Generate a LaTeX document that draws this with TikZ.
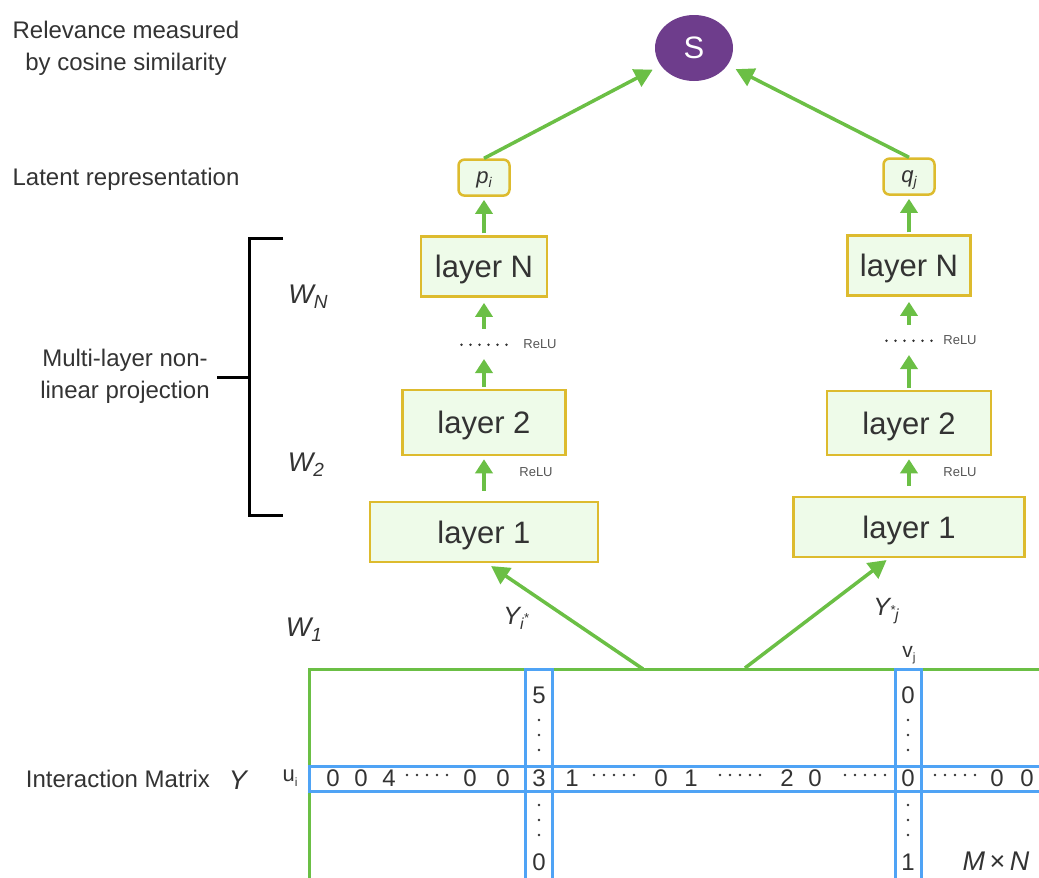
\documentclass[tikz,border=0pt]{standalone}
\usepackage{fontspec}
\setmainfont{Liberation Sans}
\usetikzlibrary{positioning,arrows.meta,shapes.geometric}

\definecolor{arrgreen}{HTML}{6BBF45}
\definecolor{gold}{HTML}{DDBB2E}
\definecolor{lgreen}{HTML}{EEFBE9}
\definecolor{mblue}{HTML}{4FA3F5}
\definecolor{sim}{HTML}{6E3D8C}
\definecolor{txt}{HTML}{333333}
\definecolor{relu}{HTML}{555555}

\newcommand\lowsub[2][15]{\raisebox{-0.2em}{\fontsize{#1}{#1}\selectfont #2}}
\newcommand\upstar[1][13]{\raisebox{0.4em}{\fontsize{#1}{#1}\selectfont *}}

\begin{document}
\begin{tikzpicture}[x=1pt,y=1pt,
    lab/.style={text=txt, font=\fontsize{24}{32}\selectfont, align=center},
    lay/.style={draw=gold, fill=lgreen, line width=2.5pt, inner sep=0pt, text=txt,
      text depth=0pt, font=\fontsize{31}{36}\selectfont},
    vec/.style={draw=gold, fill=lgreen, line width=2.5pt, rounded corners=6pt, inner sep=0pt,
      minimum width=51pt, minimum height=36pt, text=txt, text depth=0pt,
      font=\fontsize{22}{24}\selectfont\itshape},
    gap/.style={minimum width=50pt, minimum height=28pt, inner sep=0pt},
    up/.style={draw=arrgreen, line width=3.5pt, -{Triangle[length=14pt,width=17pt]},
      shorten <=2pt, shorten >=3pt},
    big/.style={draw=arrgreen, line width=3.5pt, -{Triangle[length=18pt,width=19pt]}},
    relu/.style={text=relu, font=\fontsize{13}{14}\selectfont},
    wlab/.style={text=txt, font=\fontsize{27}{30}\selectfont\itshape},
    num/.style={text=txt, font=\fontsize{24}{26}\selectfont, inner sep=0pt},
    mline/.style={draw=arrgreen, line width=3pt},
    bline/.style={draw=mblue, line width=3pt},
  ]
  \useasboundingbox (0,0) rectangle (1039,-878);

  % left tower
  \node[lay, minimum width=228pt, minimum height=60pt] (l1) at (484,-532) {layer 1};
  \node[lay, minimum width=163pt, minimum height=65pt, above=44.5pt of l1] (l2) {layer 2};
  \node[gap, above=29.75pt of l2] (d1) {};
  \node[lay, minimum width=126pt, minimum height=60pt, above=32.75pt of d1] (ln) {layer N};
  \node[vec, above=38.5pt of ln] (p) {p\lowsub[14]{i}};

  % right tower
  \node[lay, minimum width=231pt, minimum height=60pt] (r1) at (909,-527) {layer 1};
  \node[lay, minimum width=164pt, minimum height=64pt, above=39.5pt of r1] (r2) {layer 2};
  \node[gap, above=34.75pt of r2] (d2) {};
  \node[lay, minimum width=123pt, minimum height=60pt, above=29.75pt of d2] (rn) {layer N};
  \node[vec, above=38.5pt of rn] (q) {q\lowsub[14]{j}};

  \foreach \d in {d1,d2}
    \foreach \k in {0,...,5}
      \fill[txt] ([xshift=\k*9pt-22.5pt]\d.center) circle (1.4pt);

  \node[relu] (ra) at (540,-344) {ReLU};
  \node[relu] (rb) at (536,-472) {ReLU};
  \node[relu] (rc) at (960,-340) {ReLU};
  \node[relu] (rd) at (960,-472) {ReLU};

  \node[ellipse, fill=sim, minimum width=78pt, minimum height=66pt, inner sep=0pt,
    text=white, text depth=0pt, font=\fontsize{31}{32}\selectfont] (s) at (694,-48) {S};

  \draw[up, shorten <=10pt] (l1) -- (l2);
  \draw[up, shorten >=0pt] (l2) -- (d1);
  \draw[up, shorten >=5pt] (d1) -- (ln);
  \draw[up] (ln) -- (p);
  \draw[up, shorten <=10pt] (r1) -- (r2);
  \draw[up, shorten >=0pt] (r2) -- (d2);
  \draw[up, shorten >=5pt] (d2) -- (rn);
  \draw[up] (rn) -- (q);
  \draw[big, shorten >=9pt] (p.north) -- (s);
  \draw[big, shorten >=9pt] (q.north) -- (s);

  % labels on the left
  \node[lab] (rel) at (126,-48) {Relevance measured\\by cosine similarity};
  \node[lab] (lat) at (126,-179) {Latent representation};
  \node[lab] (mlp) at (125,-376) {Multi-layer non-\\linear projection};
  \node[lab] (im) at (118,-779) {Interaction Matrix};
  \node[wlab] (y) at (238,-780) {Y};
  \draw[line width=3pt, black] (283,-238) -- (249,-238) -- (249,-515) -- (283,-515);
  \draw[line width=3pt, black] (217,-377) -- (249,-377);

  \node[wlab] (wn) at (308,-297) {W\lowsub[19]{N}};
  \node[wlab] (w2) at (306,-465) {W\lowsub[19]{2}};
  \node[wlab] (w1) at (304,-630) {W\lowsub[19]{1}};
  \node[wlab, font=\fontsize{25}{28}\selectfont\itshape] (yi) at (516,-618) {Y\lowsub[16]{i\upstar}};
  \node[wlab, font=\fontsize{25}{28}\selectfont\itshape] (yj) at (886,-611) {Y\lowsub[16]{\upstar j}};

  % interaction matrix
  \begin{scope}
    \clip (0,0) rectangle (1039,-878);
    \draw[mline] (309,-895) |- (1060,-669);
    \draw[bline] (525,-669) rectangle (552,-895);
    \draw[bline] (895,-669) rectangle (921,-895);
    \draw[bline] (309,-766) rectangle (1060,-791);
  \end{scope}
  \coordinate (mi) at (643,-669);
  \coordinate (mj) at (745,-668);
  \draw[big, shorten >=5pt] (mi) -- ([xshift=3pt]l1.south);
  \draw[big, shorten >=3pt] (mj) -- ([xshift=-20pt]r1.south);

  \node[num, font=\fontsize{22}{24}\selectfont] (ui) at (290,-778) {u\lowsub[12]{i}};
  \node[num, font=\fontsize{21}{24}\selectfont] (vj) at (909,-655) {v\lowsub[12]{j}};
  \foreach \v/\x [count=\k] in {0/333,0/361,4/389,0/470,0/503,3/539,1/572,0/661,1/691,
      2/787,0/815,0/908,0/997,0/1027}
    \node[num] (e\k) at (\x,-778) {\v};
  \foreach \x in {407,594,720,845,935}
    \foreach \k in {0,...,4}
      \fill[txt] (\x+\k*10,-775) circle (1.3pt);
  \node[num] (c1) at (539,-695) {5};
  \node[num] (c2) at (539,-862) {0};
  \node[num] (c3) at (908,-695) {0};
  \node[num] (c4) at (908,-862) {1};
  \foreach \x in {539,908}
    \foreach \y in {720,735,750,805,820,835}
      \fill[txt] (\x,-\y) circle (1.3pt);
  \node[wlab, font=\fontsize{27}{30}\selectfont\itshape] (mn) at (996,-861) {M\,{\upshape×}\,N};
\end{tikzpicture}
\end{document}
